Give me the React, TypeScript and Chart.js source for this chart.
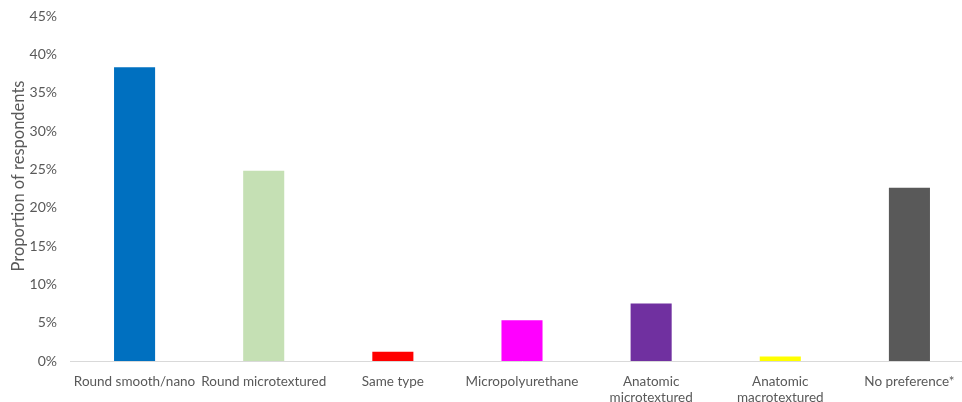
import { useEffect, useRef } from "react";
import { Chart, registerables } from "chart.js";

Chart.register(...registerables);

const categories: (string | string[])[] = [
  "Round smooth/nano",
  "Round microtextured",
  "Same type",
  "Micropolyurethane",
  ["Anatomic", "microtextured"],
  ["Anatomic", "macrotextured"],
  "No preference*",
];

const shares = [38.3, 24.8, 1.2, 5.3, 7.5, 0.6, 22.6];

const barColors = [
  "#0070C0",
  "#C5E0B4",
  "#FF0000",
  "#FF00FF",
  "#7030A0",
  "#FFFF00",
  "#595959",
];

const yTicks = [0, 5, 10, 15, 20, 25, 30, 35, 40, 45];

const yTitle = "Proportion of respondents";

const FONT = "Lato, 'Open Sans', sans-serif";
const TEXT = "#595959";

// The plot area runs a little past the right edge of the visible frame.
const CANVAS_W = 976;
const VIEW_W = 962;
const VIEW_H = 402;

// Vertical axis title, drawn rotated beside the value axis.
const axisTitlePlugin = {
  id: "axisTitle",
  afterDraw(chart: any) {
    const { ctx } = chart;
    ctx.save();
    ctx.translate(19, 176);
    ctx.rotate(-Math.PI / 2);
    ctx.font = `16.5px ${FONT}`;
    ctx.fillStyle = TEXT;
    ctx.textAlign = "center";
    ctx.textBaseline = "middle";
    ctx.fillText(yTitle, 0, 0);
    ctx.restore();
  },
};

export default function App() {
  const canvasRef = useRef<HTMLCanvasElement | null>(null);

  useEffect(() => {
    const canvas = canvasRef.current;
    if (!canvas) return;
    const chart = new Chart(canvas, {
      type: "bar",
      data: {
        labels: categories,
        datasets: [
          {
            data: shares,
            backgroundColor: barColors,
            borderWidth: 0,
            categoryPercentage: 0.318,
            barPercentage: 1,
          },
        ],
      },
      plugins: [axisTitlePlugin],
      options: {
        animation: false,
        responsive: false,
        maintainAspectRatio: false,
        layout: { padding: { top: 16, right: 2, left: 0, bottom: 0 } },
        plugins: { legend: { display: false }, tooltip: { enabled: false } },
        scales: {
          x: {
            grid: { display: false, drawTicks: false },
            border: { display: true, color: "#D9D9D9", width: 1 },
            ticks: {
              color: TEXT,
              font: { family: FONT, size: 13.5, lineHeight: 1.18 },
              padding: 13,
              maxRotation: 0,
              autoSkip: false,
            },
            afterFit: (scale: any) => {
              scale.height = 41;
            },
          },
          y: {
            min: 0,
            max: 45,
            afterBuildTicks: (scale: any) => {
              scale.ticks = yTicks.map((v) => ({ value: v }));
            },
            grid: { display: false, drawTicks: false },
            border: { display: false },
            ticks: {
              color: TEXT,
              font: { family: FONT, size: 14 },
              padding: 13,
              callback: (v: any) => `${v}%`,
            },
            afterFit: (scale: any) => {
              scale.width = 70;
              scale.paddingTop = 0;
              scale.paddingBottom = 0;
            },
          },
        },
      },
    });
    return () => chart.destroy();
  }, []);

  return (
    <div
      style={{
        position: "fixed",
        left: 0,
        top: 0,
        width: VIEW_W,
        height: VIEW_H,
        overflow: "hidden",
        background: "#fff",
      }}
    >
      <canvas
        ref={canvasRef}
        width={CANVAS_W}
        height={VIEW_H}
        style={{ width: CANVAS_W, height: VIEW_H, display: "block" }}
      />
    </div>
  );
}
